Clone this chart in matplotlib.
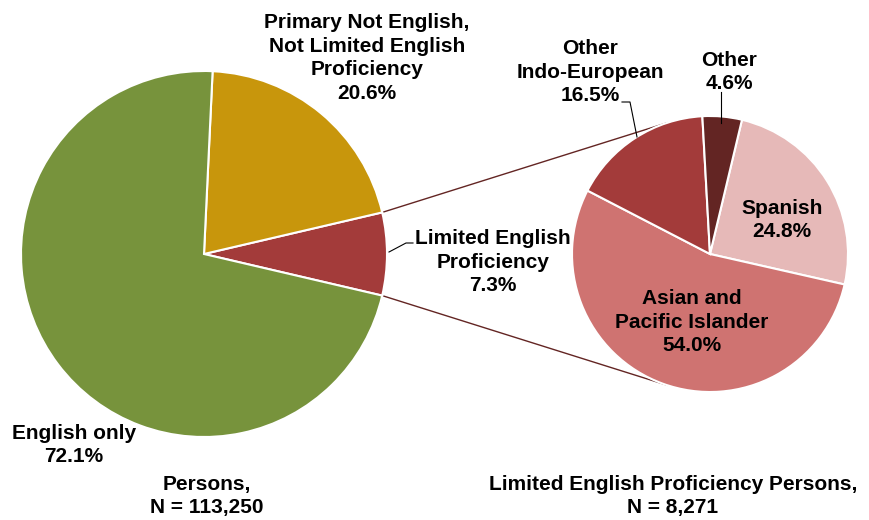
import numpy as np
import matplotlib
matplotlib.use("Agg")
import matplotlib.pyplot as plt

plt.rcParams['font.family'] = ['Liberation Sans', 'DejaVu Sans']

# all persons
all_labels = ['Limited English\nProficiency', 'Primary Not English,\nNot Limited English\nProficiency', 'English only']
all_pct = [7.3, 20.6, 72.1]
all_colors = ['#A33B3A', '#C8960C', '#77933C']
all_n = '113,250'

# LEP persons by language group
lep_labels = ['Spanish', 'Asian and\nPacific Islander', 'Other\nIndo-European', 'Other']
lep_pct = [24.8, 54.0, 16.5, 4.6]
lep_colors = ['#E6B9B8', '#CF7371', '#A33B3A', '#632523']
lep_n = '8,271'

W, H = 870, 520
fig = plt.figure(figsize=(W / 100, H / 100), dpi=100)
ax = fig.add_axes([0, 0, 1, 1])

c1, r1 = (204, 254), 183
c2, r2 = (710, 254), 138

# y axis is flipped, so counterclock=False draws counter-clockwise on screen
start1 = -all_pct[0] / 100 * 360 / 2
w1, _ = ax.pie(all_pct, colors=all_colors, center=c1, radius=r1,
               startangle=-start1, counterclock=False, frame=True,
               wedgeprops=dict(edgecolor='white', linewidth=1.5))
w2, _ = ax.pie(lep_pct, colors=lep_colors, center=c2, radius=r2,
               startangle=-76.6, counterclock=True, frame=True,
               wedgeprops=dict(edgecolor='white', linewidth=1.5))
ax.set_xlim(0, W)
ax.set_ylim(H, 0)
ax.set_aspect('equal')
ax.axis('off')

# connector lines from the LEP slice to the second pie
lep_w = w1[0]
for ang1, ang2 in [(lep_w.theta1, -108), (lep_w.theta2, -252)]:
    p1 = (c1[0] + r1 * np.cos(np.radians(ang1)), c1[1] + r1 * np.sin(np.radians(ang1)))
    p2 = (c2[0] + r2 * np.cos(np.radians(ang2)), c2[1] + r2 * np.sin(np.radians(ang2)))
    ax.plot([p1[0], p2[0]], [p1[1], p2[1]], color='#632523', lw=1, zorder=0)

fs = 15
kw = dict(ha='center', va='center', fontsize=fs, fontweight='bold', color='black', linespacing=1.3)

ax.text(367, 58, f'{all_labels[1]}\n{all_pct[1]:.1f}%', **kw)
ax.text(493, 262, f'{all_labels[0]}\n{all_pct[0]:.1f}%', **kw)
ax.text(74, 445, f'{all_labels[2]}\n{all_pct[2]:.1f}%', **kw)
ax.text(207, 496, f'Persons,\nN = {all_n}', **kw)

ax.text(782, 220, f'{lep_labels[0]}\n{lep_pct[0]:.1f}%', **kw)
ax.text(692, 322, f'{lep_labels[1]}\n{lep_pct[1]:.1f}%', **kw)
ax.text(590, 72, f'{lep_labels[2]}\n{lep_pct[2]:.1f}%', **kw)
ax.text(729, 72, f'{lep_labels[3]}\n{lep_pct[3]:.1f}%', **kw)
ax.text(673, 496, f'Limited English Proficiency Persons,\nN = {lep_n}', **kw)

# leader lines
ax.plot([389, 406, 413], [252, 243, 243], color='black', lw=0.8)
ax.plot([637, 630, 622], [137, 102, 102], color='black', lw=0.8)
ax.plot([721, 721], [123, 92], color='black', lw=0.8)

fig.savefig('out.png', dpi=100)
